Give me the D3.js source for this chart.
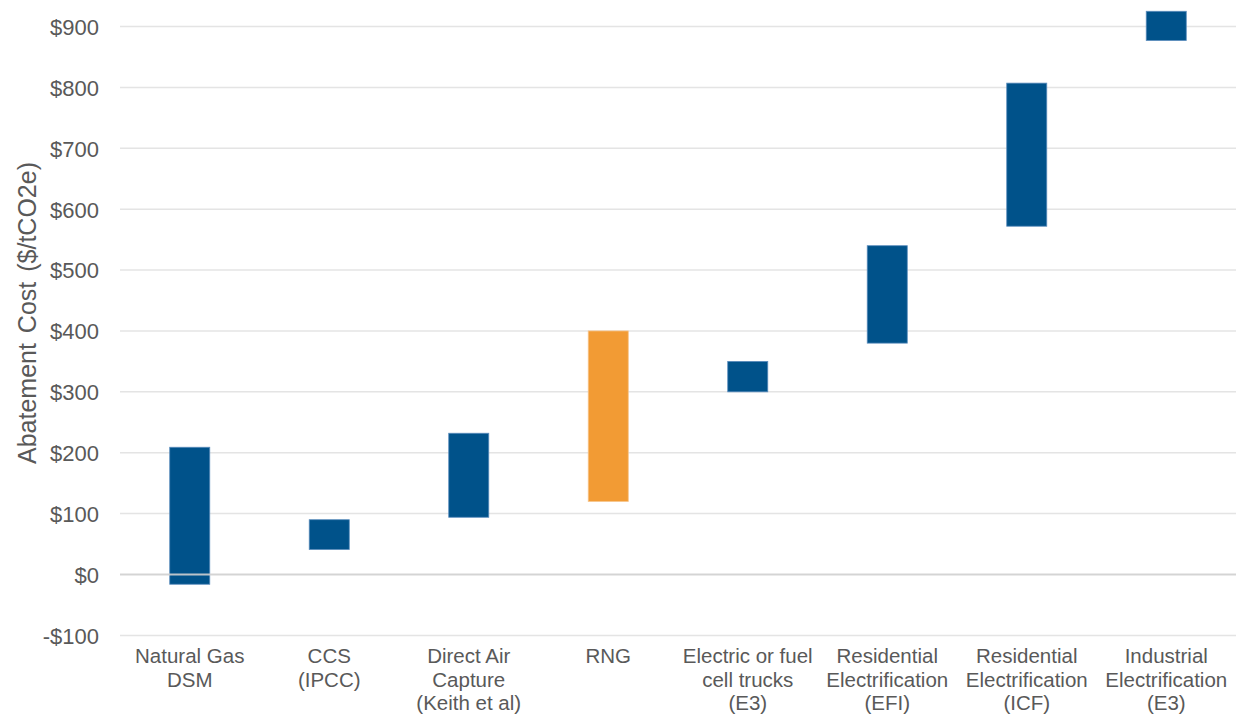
<!DOCTYPE html>
<html>
<head>
<meta charset="utf-8">
<script src="https://cdn.jsdelivr.net/npm/d3@7"></script>
<style>
  html, body { margin: 0; padding: 0; background: #ffffff; }
  svg { display: block; font-family: "Liberation Sans", Arial, sans-serif; }
</style>
</head>
<body>
<svg id="chart" width="1236" height="719"></svg>
<script>
// Abatement cost ranges ($/tCO2e) per measure
const categories = [
  "Natural Gas|DSM",
  "CCS|(IPCC)",
  "Direct Air|Capture|(Keith et al)",
  "RNG",
  "Electric or fuel|cell trucks|(E3)",
  "Residential|Electrification|(EFI)",
  "Residential|Electrification|(ICF)",
  "Industrial|Electrification|(E3)"
];
const lowValues  = [-16, 41, 94, 120, 300, 380, 572, 877];
const highValues = [209, 90, 232, 400, 350, 540, 807, 925];
const highlighted = ["RNG"];
const yTicks = [-100, 0, 100, 200, 300, 400, 500, 600, 700, 800, 900];
const yTitle = "Abatement Cost ($/tCO2e)";

const svg = d3.select("#chart");
const plotLeft = 120, plotRight = 1236;

const x = d3.scaleBand()
  .domain(categories)
  .range([plotLeft, plotRight])
  .paddingInner(0.713)
  .paddingOuter(0.3565);

const y = d3.scaleLinear()
  .domain([-100, 900])
  .range([635.4, 26.5]);

const textColor = "#595959";

// horizontal gridlines
svg.append("g")
  .selectAll("line")
  .data(yTicks.filter(d => d !== 0))
  .join("line")
  .attr("x1", plotLeft).attr("x2", plotRight)
  .attr("y1", d => y(d)).attr("y2", d => y(d))
  .attr("stroke", "#e4e4e4")
  .attr("stroke-width", 1.5);

// y tick labels
const fmt = v => (v < 0 ? "-$" : "$") + Math.abs(v);
const yAxis = d3.axisLeft(y).tickValues(yTicks).tickFormat(fmt).tickSize(0).tickPadding(0);
const gy = svg.append("g").attr("transform", "translate(99,0)").call(yAxis);
gy.select(".domain").remove();
gy.selectAll("text")
  .attr("fill", textColor)
  .style("font-size", "22px")
  .attr("dy", "0.36em");

// floating range bars
const rows = categories.map((c, i) => ({ c, lo: lowValues[i], hi: highValues[i] }));
svg.append("g")
  .selectAll("rect")
  .data(rows)
  .join("rect")
  .attr("x", d => x(d.c))
  .attr("width", x.bandwidth())
  .attr("y", d => y(d.hi))
  .attr("height", d => y(d.lo) - y(d.hi))
  .attr("fill", d => highlighted.includes(d.c) ? "#F29B34" : "#00528A")
  .attr("stroke", d => highlighted.includes(d.c) ? "#f7c48a" : "#5a8cbc")
  .attr("stroke-width", 0.8);

// zero baseline
svg.append("line")
  .attr("x1", plotLeft).attr("x2", plotRight)
  .attr("y1", y(0)).attr("y2", y(0))
  .attr("stroke", "#cfcfcf")
  .attr("stroke-width", 2.2)
  .attr("stroke-opacity", 0.9);

// category labels, multi-line
const xl = svg.append("g")
  .selectAll("text")
  .data(categories)
  .join("text")
  .attr("x", d => x(d) + x.bandwidth() / 2)
  .attr("y", 663)
  .attr("text-anchor", "middle")
  .attr("fill", textColor)
  .style("font-size", "20.5px");
xl.selectAll("tspan")
  .data(d => d.split("|"))
  .join("tspan")
  .attr("x", function () { return d3.select(this.parentNode).attr("x"); })
  .attr("dy", (d, i) => i === 0 ? 0 : 23.5)
  .text(d => d);

// y axis title
svg.append("text")
  .attr("transform", `translate(36,${313}) rotate(-90)`)
  .attr("text-anchor", "middle")
  .attr("fill", textColor)
  .style("font-size", "25px")
  .style("word-spacing", "3px")
  .text(yTitle);
</script>
</body>
</html>
